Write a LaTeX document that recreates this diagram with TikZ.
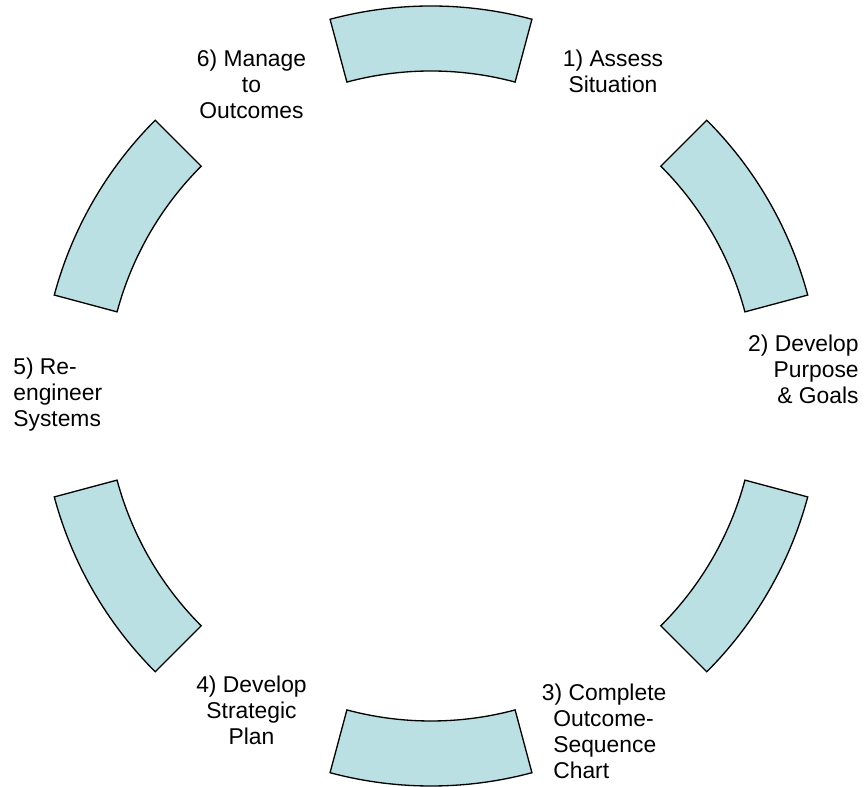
\documentclass[tikz,border=0pt]{standalone}
\usepackage{fontspec}
\setmainfont{Liberation Sans}
\usetikzlibrary{calc,positioning}
\definecolor{segfill}{HTML}{BBE0E3}
\tikzset{
  segment/.style={draw=black, line width=0.75pt, fill=segfill, line join=miter},
  steplabel/.style={inner sep=0pt, font=\fontsize{13}{14.7}\selectfont}
}
\begin{document}
\begin{tikzpicture}[x=0.02cm, y=0.02cm]
\useasboundingbox (0,0) rectangle (865,787);
\coordinate (c) at (431,391);
% ring of six segments
\foreach \a in {90,30,-30,-90,-150,150}
  \draw[segment] ($(c)+(\a-15:390)$) arc[start angle=\a-15, end angle=\a+15, radius=390]
    -- ($(c)+(\a+15:325)$) arc[start angle=\a+15, end angle=\a-15, radius=325] -- cycle;
% step labels
\node[steplabel, align=center, anchor=north] (assess) at (613,737) {1) Assess\\Situation};
\node[steplabel, align=right, anchor=north east] (goals) at (859,452) {2) Develop\\Purpose\\\& Goals};
\node[steplabel, align=left, anchor=north west] (chart) at (553,103)
  {\hspace*{-10\pgflinewidth}\hspace*{-2.5pt}3) Complete\\Outcome-\\Sequence\\Chart};
\node[steplabel, align=center, anchor=north] (plan) at (251.5,111) {4) Develop\\Strategic\\Plan};
\node[steplabel, align=left, anchor=north west] (systems) at (13,429) {5) Re-\\engineer\\Systems};
\node[steplabel, align=center, anchor=north] (manage) at (251.5,737) {6) Manage\\to\\Outcomes};
\end{tikzpicture}
\end{document}
